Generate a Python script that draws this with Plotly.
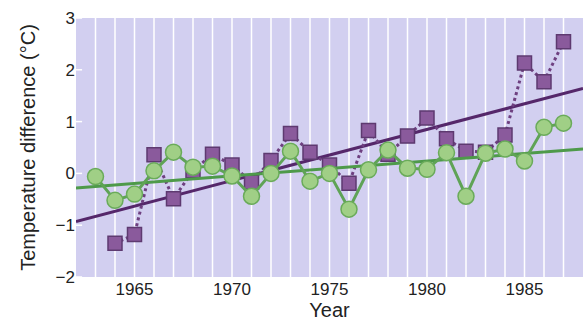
import plotly.graph_objects as go

years = list(range(1963, 1988))
green_vals = [-0.06, -0.52, -0.40, 0.05, 0.41, 0.12, 0.14, -0.05, -0.44, 0.0, 0.43, -0.15,
              0.0, -0.69, 0.07, 0.45, 0.10, 0.08, 0.40, -0.44, 0.39, 0.47, 0.24, 0.89, 0.97]
purple_years = list(range(1964, 1988))
purple_vals = [-1.35, -1.18, 0.36, -0.49, 0.05, 0.37, 0.16, -0.17, 0.25, 0.77, 0.41,
               0.16, -0.19, 0.83, 0.37, 0.72, 1.07, 0.67, 0.43, 0.41, 0.74, 2.13, 1.77, 2.54]
trend_x = [1962, 1988]
purple_trend = [-0.93, 1.64]
green_trend = [-0.28, 0.47]
x_ticks = [1965, 1970, 1975, 1980, 1985]
y_ticks = [-2, -1, 0, 1, 2, 3]
y_tick_text = ["\u22122", "\u22121", "0", "1", "2", "3"]

fig = go.Figure()
fig.add_trace(go.Scatter(x=trend_x, y=purple_trend, mode="lines",
                         line=dict(color="#55276a", width=3), showlegend=False))
fig.add_trace(go.Scatter(x=purple_years, y=purple_vals, mode="lines+markers",
                         line=dict(color="#6e4080", width=3, dash="dot"),
                         marker=dict(symbol="square", size=14, color="#8a5a9c",
                                     line=dict(color="#5e3a70", width=1.5)),
                         showlegend=False))
fig.add_trace(go.Scatter(x=trend_x, y=green_trend, mode="lines",
                         line=dict(color="#4e9a4a", width=3), showlegend=False))
fig.add_trace(go.Scatter(x=years, y=green_vals, mode="lines+markers",
                         line=dict(color="#5fa356", width=3),
                         marker=dict(symbol="circle", size=16, color="#a0cf86",
                                     line=dict(color="#6aab5a", width=1.5)),
                         showlegend=False))

fig.update_layout(
    width=583, height=324,
    margin=dict(l=76, r=0, t=18, b=47),
    paper_bgcolor="white",
    plot_bgcolor="#d2cff0",
    font=dict(family="Liberation Sans, Arial, sans-serif", size=17, color="#222222"),
    xaxis=dict(range=[1962, 1988], tickvals=x_ticks, showgrid=False, zeroline=False,
               ticks="", ticklabelstandoff=0, automargin=False,
               title=dict(text="Year", standoff=4), showline=False),
    yaxis=dict(range=[-2, 3], tickvals=y_ticks, ticktext=y_tick_text, showgrid=False,
               zeroline=False, ticks="", automargin=False,
               title=dict(text="Temperature difference (\u00b0C)", standoff=14),
               showline=False),
)
for yr in range(1963, 1988):
    fig.add_shape(type="line", x0=yr, x1=yr, y0=0, y1=1, xref="x", yref="paper",
                  line=dict(color="white", width=1.5), layer="below")
for yv in y_ticks:
    fig.add_shape(type="line", x0=0, x1=0.012, y0=yv, y1=yv, xref="paper", yref="y",
                  line=dict(color="white", width=1.5), layer="below")

fig.write_html("out.html", config={"displayModeBar": False},
               post_script="document.body.style.margin='0';document.body.style.overflow='hidden';")
